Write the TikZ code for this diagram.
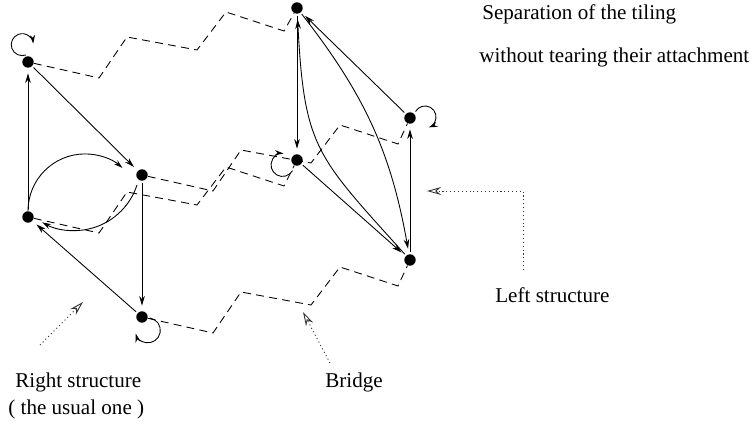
\documentclass[tikz,border=0pt]{standalone}
\usepackage{fontspec}
\setmainfont{Liberation Serif}
\usetikzlibrary{arrows.meta}
\tikzset{
  vertex/.style={circle,fill=black,inner sep=0pt,minimum size=6.5pt},
  edgeline/.style={-{Stealth[length=5.5pt,width=3.2pt]},line width=0.5pt,
    shorten >=3pt,shorten <=1pt},
  loopline/.style={-{Stealth[length=5pt,width=3pt]},line width=0.5pt},
  bridge/.style={line width=0.5pt,dash pattern=on 4.5pt off 3pt},
  pointer/.style={-{Stealth[open,length=8pt,width=4.5pt]},line width=0.5pt,
    dash pattern=on 0.6pt off 1.6pt,black!80},
  caption/.style={inner sep=0pt,anchor=base west,font=\fontsize{12}{14}\selectfont}
}

\begin{document}
\begin{tikzpicture}[x=0.02cm,y=0.02cm]
  \useasboundingbox (0,0) rectangle (756,425);

  % right structure
  \node[vertex] (A) at (28,363) {};
  \node[vertex] (B) at (142,250) {};
  \node[vertex] (C) at (28,208) {};
  \node[vertex] (D) at (142,108) {};
  % left structure
  \node[vertex] (E) at (297,417) {};
  \node[vertex] (F) at (297,265) {};
  \node[vertex] (G) at (410,307) {};
  \node[vertex] (H) at (410,165) {};

  % bridge
  \foreach \from/\to in {A/E,C/F,B/G,D/H}
    \draw[bridge] (\from) -- ++(71,-16) -- ++(28,41) -- ++(70,-13)
      -- ++(29,38) -- ++(58,-19) -- (\to);

  \draw[edgeline] (C) -- (A);
  \draw[edgeline] (A) -- (B);
  \draw[edgeline] (B) -- (D);
  \draw[edgeline] (D) -- (C);
  \draw[loopline] (C.north) arc[start angle=180,end angle=49,radius=57];
  \draw[loopline] (B) ++(-5,-10) arc[start angle=-18,end angle=-119,radius=66];
  \draw[loopline] (A) ++(-2,7) arc[start angle=290,end angle=5,radius=11];
  \draw[loopline] (D) ++(8,-1) arc[start angle=80,end angle=-165,radius=12.5];

  \draw[edgeline] (E) -- (F);
  \draw[edgeline] (F) -- (H);
  \draw[edgeline] (H) -- (G);
  \draw[edgeline] (G) -- (E);
  \draw[edgeline] (E) to[out=-52,in=100] (H);
  \draw[edgeline] (H) to[out=132,in=-87,looseness=1.3] (E);
  \draw[loopline] (F) ++(-4.5,-10.7) arc[start angle=-30,end angle=-275,radius=11.5];
  \draw[loopline] (G) ++(5.5,6.5) arc[start angle=150,end angle=-70,radius=11];

  % pointers
  \coordinate (rtail) at (40,80);
  \coordinate (rtip) at (83,123);
  \coordinate (btail) at (330,62);
  \coordinate (btip) at (303,113);
  \coordinate (ltail) at (523,155);
  \coordinate (ltip) at (427,234);
  \draw[pointer] (rtail) -- (rtip);
  \draw[pointer] (btail) -- (btip);
  \draw[pointer] (ltail) |- (ltip);

  % texts
  \node[caption] (septitle) at (482,405) {Separation of the tiling};
  \node[caption] (sepsub) at (479,362) {without tearing their attachment};
  \node[caption] (leftlabel) at (495,122) {Left structure};
  \node[caption] (bridgelabel) at (325,37) {Bridge};
  \node[caption] (rightlabel) at (15,37) {Right structure};
  \node[caption] (usuallabel) at (8,10) {( the usual one )};
\end{tikzpicture}
\end{document}
